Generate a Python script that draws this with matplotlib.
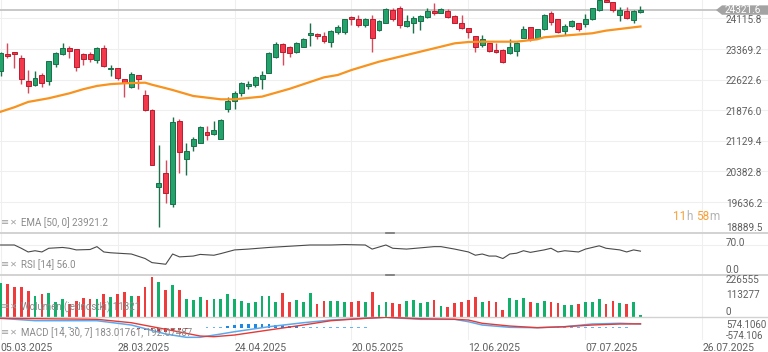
import numpy as np
import matplotlib.pyplot as plt
from matplotlib.patches import Polygon
from matplotlib.transforms import blended_transform_factory, ScaledTranslation

plt.rcParams['font.family'] = ['Roboto', 'DejaVu Sans']

# ---- data --------------------------------------------------------------
tick_pos = [0, 17, 34, 51, 68, 85, 102]
tick_dates = ["05.03.2025", "28.03.2025", "24.04.2025", "20.05.2025",
              "12.06.2025", "07.07.2025", "26.07.2025"]

opens = [22835, 23249, 23298, 23152, 22591, 22493, 22737, 22591, 23005, 23249,
         23396, 23371, 23249, 23249, 23103, 23396, 22883, 22908, 22639, 22444,
         22737, 22249, 21883, 20004, 20346, 19589, 21615, 20687, 21005, 21078,
         21346, 21297, 21175, 21907, 22103, 22298, 22469, 22493, 22639, 22786,
         23176, 23493, 23420, 23298, 23420, 23713, 23737, 23689, 23542, 23786,
         23786, 24152, 24103, 23957, 24103, 23835, 24006, 24323, 24372, 23933,
         24006, 24055, 24152, 24299, 24250, 24299, 24177, 24006, 23884, 23689,
         23469, 23518, 23347, 23347, 23274, 23323, 23640, 23908, 23640, 23859,
         24250, 24103, 23811, 23933, 24006, 23981, 24103, 24323, 24560, 24518,
         24201, 24299, 24079, 24274]
highs = [23300, 23518, 23310, 23225, 22859, 22835, 22786, 23090, 23298, 23518,
         23445, 23380, 23274, 23298, 23420, 23469, 22981, 22920, 22650, 22810,
         22745, 22371, 21905, 21029, 20663, 21712, 21663, 21078, 21224, 21493,
         21493, 21615, 21663, 22200, 22347, 22555, 22591, 22713, 22835, 23298,
         23542, 23518, 23445, 23542, 23640, 24006, 23762, 23786, 23825, 23957,
         24115, 24165, 24201, 24128, 24201, 24079, 24360, 24372, 24421, 24201,
         24177, 24190, 24372, 24494, 24372, 24347, 24201, 24201, 23895, 23700,
         23713, 23530, 23518, 23360, 23615, 23542, 23933, 23920, 23870, 24225,
         24299, 24115, 23981, 24067, 24018, 24225, 24384, 24590, 24570, 24530,
         24396, 24396, 24323, 24420]
lows = [22713, 23152, 22908, 22517, 22298, 22469, 22444, 22493, 22932, 23225,
        23152, 22835, 22981, 23054, 23030, 22932, 22713, 22615, 22200, 22430,
        22395, 21870, 20530, 19028, 19614, 19516, 20346, 20297, 20883, 21070,
        21151, 21273, 21165, 21834, 21907, 22225, 22395, 22444, 22395, 22775,
        23152, 22981, 23176, 23274, 23410, 23445, 23615, 23518, 23420, 23737,
        23737, 23957, 23908, 23908, 23298, 23811, 23995, 24055, 23884, 23908,
        23762, 23835, 24140, 24201, 24240, 24128, 23995, 23859, 23640, 23298,
        23420, 23298, 23274, 23030, 23260, 23201, 23630, 23567, 23615, 23835,
        23957, 23762, 23713, 23908, 23811, 23908, 24079, 24298, 24510, 24274,
        24055, 24103, 24006, 24250]
closes = [23274, 23201, 23249, 22639, 22469, 22664, 22542, 23079, 23274, 23396,
          23323, 22932, 23127, 23127, 23396, 22957, 22908, 22664, 22542, 22761,
          22639, 21883, 20541, 20102, 19858, 21590, 20858, 20883, 21175, 21468,
          21273, 21395, 21639, 22103, 22298, 22542, 22517, 22688, 22737, 23274,
          23493, 23298, 23274, 23518, 23615, 23762, 23689, 23567, 23811, 23908,
          24103, 24103, 23957, 24103, 23640, 24055, 24347, 24103, 23957, 24055,
          24128, 24177, 24299, 24250, 24347, 24152, 24006, 23884, 23786, 23420,
          23615, 23323, 23298, 23054, 23420, 23518, 23859, 23615, 23859, 24201,
          24030, 23786, 23933, 24055, 23859, 24103, 24372, 24560, 24518, 24323,
          24323, 24128, 24299, 24321.6]

ema_x = [0, 2, 4, 7, 10, 12, 14, 16, 18, 21, 22, 24, 25, 28, 32, 34, 38, 42,
         47, 49, 51, 55, 58, 61, 64, 66, 68, 70, 75, 78, 79, 86, 88, 93]
ema_y = [21841, 21950, 22080, 22170, 22290, 22390, 22470, 22515, 22535, 22550,
         22500, 22415, 22371, 22225, 22144, 22144, 22210, 22400, 22680, 22737,
         22859, 23062, 23184, 23306, 23428, 23510, 23542, 23550, 23550, 23608,
         23657, 23755, 23820, 23921]

rsi_x = [0, 2, 3, 4, 5, 6, 7, 9, 10, 11, 13, 14, 15, 16, 18, 19, 21, 22, 24,
         25, 26, 28, 29, 31, 32, 34, 36, 39, 42, 45, 48, 50, 53, 54, 56, 57,
         59, 61, 63, 64, 66, 68, 69, 70, 71, 72, 73, 74, 75, 76, 77, 79, 80,
         81, 82, 84, 85, 87, 88, 90, 91, 92, 93]
rsi_y = [71, 71, 63, 54, 57, 54, 63, 65, 63, 59, 60, 67, 54, 52, 50, 49, 38,
         28, 24, 49, 42, 44, 48, 46, 50, 59, 61, 65, 68, 71, 71, 72, 71, 61,
         71, 63, 61, 64, 67, 67, 61, 54, 46, 49, 44, 44, 38, 49, 51, 57, 53,
         59, 63, 54, 57, 54, 61, 69, 63, 59, 54, 59, 56]

volume = [218000, 209000, 188000, 188000, 164000, 134000, 143000, 154000, 92000,
          113000, 81000, 100000, 122000, 111000, 111000, 143000, 124000, 145000,
          158000, 132000, 132000, 188000, 256000, 220000, 173000, 203000, 171000,
          111000, 107000, 124000, 107000, 111000, 111000, 143000, 111000, 102000,
          90000, 96000, 132000, 132000, 96000, 154000, 92000, 104000, 96000,
          149000, 81000, 100000, 100000, 100000, 92000, 92000, 100000, 96000,
          160000, 75000, 92000, 90000, 81000, 102000, 107000, 90000, 92000,
          107000, 68000, 60000, 85000, 96000, 107000, 128000, 92000, 100000,
          92000, 43000, 117000, 107000, 117000, 92000, 85000, 100000, 92000,
          85000, 75000, 75000, 81000, 92000, 96000, 113000, 81000, 100000,
          85000, 81000, 96000, 11821]

macd_x = [0, 5, 14, 19, 24, 27, 29, 32, 34, 39, 44, 48, 53, 56, 61, 66, 68,
          70, 74, 78, 82, 86, 90, 93]
macd_y = [480, 355, 355, 130, -340, -512, -512, -340, -220, 42, 250, 390, 480,
          532, 428, 428, 303, 130, 10, -10, 42, 183, 220, 183]
signal_x = [0, 14, 19, 24, 29, 31, 34, 39, 44, 48, 53, 56, 61, 66, 68, 70, 74,
            78, 82, 86, 90, 93]
signal_y = [480, 428, 250, -94, -444, -480, -392, -130, 130, 355, 480, 532,
            460, 428, 390, 220, 78, -10, 42, 130, 183, 192]
hist = ([0] * 4 + [-50] * 4 + [0] + [50] * 3 + [0] * 2 + [-50] * 6 +
        [-80, -120, -180, -240, -220, -170, -120, -80, -50] + [0] +
        [50, 50, 50, 80, 120, 160, 190, 200, 190, 170, 150, 120, 100, 80] +
        [50] * 10 + [0] * 12 + [-50] * 10 + [50] * 16 + [0] * 2)

price_ticks = [24115.8, 23369.2, 22622.6, 21876.0, 21129.4, 20382.8, 19636.2,
               18889.5]
last_price = 24321.6

# ---- layout -------------------------------------------------------------
W, H = 768, 352
LBL = 7.2
fig = plt.figure(figsize=(W / 100, H / 100), dpi=100)
fig.patch.set_facecolor("white")


def panel(top_px, bot_px):
    a = fig.add_axes([0, 1 - bot_px / H, 1, (bot_px - top_px) / H])
    a.set_xlim(-0.09, -0.09 + W / 6.88)
    for s in a.spines.values():
        s.set_visible(False)
    a.set_xticks(tick_pos)
    a.tick_params(length=0, labelleft=False, labelbottom=False)
    a.grid(True, color="#efefef", lw=0.8)
    a.set_axisbelow(True)
    return a


ax = panel(0, 232.7)
ax_rsi = panel(232.7, 274.5)
ax_vol = panel(274.5, 316.7)
ax_macd = panel(316.7, 340)

for a, lw in [(ax_rsi, 1.4), (ax_vol, 1.4), (ax_macd, 1.0)]:
    a.spines["top"].set_visible(True)
    a.spines["top"].set_color("#d2d2d2")
    a.spines["top"].set_linewidth(lw)

GREEN, GREEN_E = "#23a26c", "#1a7049"
RED, RED_E = "#f2384a", "#b81d2e"

# ---- main candles -------------------------------------------------------
o = np.array(opens, float)
c = np.array(closes, float)
hi = np.array(highs, float)
lo = np.array(lows, float)
x = np.arange(len(o))
up = c >= o
ax.set_ylim(18889.5, 24567)
ax.set_yticks(price_ticks)
ax.vlines(x, lo, hi, colors=np.where(up, GREEN_E, "#d9495a"), lw=1.0, zorder=2)
ax.bar(x, np.maximum(np.abs(c - o), 30), bottom=np.minimum(o, c), width=0.72,
       color=np.where(up, GREEN, RED), edgecolor=np.where(up, GREEN_E, RED_E),
       linewidth=0.7, zorder=3)
ax.plot(ema_x, ema_y, color="#f7931e", lw=1.6, zorder=4)
ax.axhline(last_price, color="#c4c4c4", lw=1.3, zorder=1)

off = ScaledTranslation(0, -1.5 / 100, fig.dpi_scale_trans)
bt = blended_transform_factory(ax.transAxes, ax.transData)
for v in price_ticks[:-1]:
    ax.text(726 / W, v, f"{v:.1f}", transform=bt + off, va="center",
            ha="left", fontsize=LBL, color="#5f5f5f", zorder=6)
ax.text(726 / W, price_ticks[-1], f"{price_ticks[-1]:.1f}", transform=bt,
        va="bottom", ha="left", fontsize=LBL, color="#5f5f5f", zorder=6)

dh = 4.7 * 24.4
tag = Polygon([(716 / W, last_price), (722 / W, last_price + dh),
               (1, last_price + dh), (1, last_price - dh),
               (722 / W, last_price - dh)], closed=True, transform=bt,
              facecolor="#a3a3a3", edgecolor="none", zorder=7, clip_on=False)
ax.add_patch(tag)
ax.text(725 / W, last_price, f"{last_price:.1f}", transform=bt, va="center",
        ha="left", fontsize=LBL, color="white", zorder=8)

# ---- RSI ------------------------------------------------------------------
ax_rsi.set_ylim(-1, 101)
ax_rsi.set_yticks([70])
ax_rsi.plot(rsi_x, rsi_y, color="#4a4a4a", lw=0.8)
bt_r = blended_transform_factory(ax_rsi.transAxes, ax_rsi.transData)
ax_rsi.text(726 / W, 75.5, "70.0", transform=bt_r, va="center", fontsize=LBL,
            color="#5f5f5f")
ax_rsi.text(726 / W, 10, "0.0", transform=bt_r, va="center", fontsize=LBL,
            color="#5f5f5f")

# ---- volume ---------------------------------------------------------------
ax_vol.set_ylim(0, 270000)
ax_vol.set_yticks([])
ax_vol.bar(x, volume, width=0.4, color=np.where(up, "#12b06a", "#ee3b3b"),
           zorder=3)
bt_v = blended_transform_factory(ax_vol.transAxes, ax_vol.transData)
for lab, yy in [("226555", 232000), ("113277", 141000), ("0", 32000)]:
    ax_vol.text(726 / W, yy, lab, transform=bt_v, va="center", fontsize=LBL,
                color="#5f5f5f")

# ---- MACD -----------------------------------------------------------------
ax_macd.set_ylim(-652, 564)
ax_macd.set_yticks([])
hcol = ["#1e88e5" if v >= 80 else "#64b5f6" if v > 0 else
        "#d32f2f" if v <= -80 else "#ef5350" for v in hist]
ax_macd.bar(x, hist, width=0.4, color=hcol, zorder=2)
ax_macd.plot(macd_x, macd_y, color="#5aa9ee", lw=1.1, zorder=3)
ax_macd.plot(signal_x, signal_y, color="#e53935", lw=1.0, zorder=3)
bt_m = blended_transform_factory(ax_macd.transAxes, ax_macd.transData)
ax_macd.text(726 / W, 130, "574.1060", transform=bt_m, va="center",
             fontsize=LBL - 0.3, color="#5f5f5f")
ax_macd.text(726 / W, -444, "-574.106", transform=bt_m, va="center",
             fontsize=LBL - 0.3, color="#5f5f5f")
ax_macd.tick_params(labelbottom=True, pad=2.5)
ax_macd.set_xticklabels(tick_dates, fontsize=7.5, color="#5f5f5f")
for t in ax_macd.get_xticklabels():
    t.set_ha("left")

# ---- indicator captions -----------------------------------------------------
cap = dict(fontsize=7, color="#8a8a8a", va="center")
for yy, txt, z in [(223, "EMA [50, 0] 23921.2", 5), (265, "RSI [14] 56.0", 5),
                   (307, "Wolumen (jednostki) 11821", 1),
                   (333, "MACD [14, 30, 7] 183.01761, 192.07487", 1)]:
    fig.text(1 / W, 1 - (yy - 0.5) / H, "≡", fontsize=7, color="#a0a0a0",
             va="center", zorder=z)
    fig.text(10 / W, 1 - (yy - 0.5) / H, "✕", fontsize=6, color="#a0a0a0",
             va="center", zorder=z, family=["DejaVu Sans"])
    fig.text(21 / W, 1 - yy / H, txt, zorder=z, **cap)

# separator handles
for yy in [232.7, 274.5]:
    fig.add_artist(plt.Line2D([386 / W, 394 / W], [1 - yy / H] * 2,
                              color="#777777", lw=1.2))

# countdown
for xx, txt, col in [(673, "11", "#f7a035"), (686.5, "h", "#b3b3b3"),
                     (696, "58", "#f7a035"), (709.5, "m", "#b3b3b3")]:
    fig.text(xx / W, 1 - 216 / H, txt, fontsize=8.5, color=col, va="center")

fig.savefig("out.png", dpi=100)
